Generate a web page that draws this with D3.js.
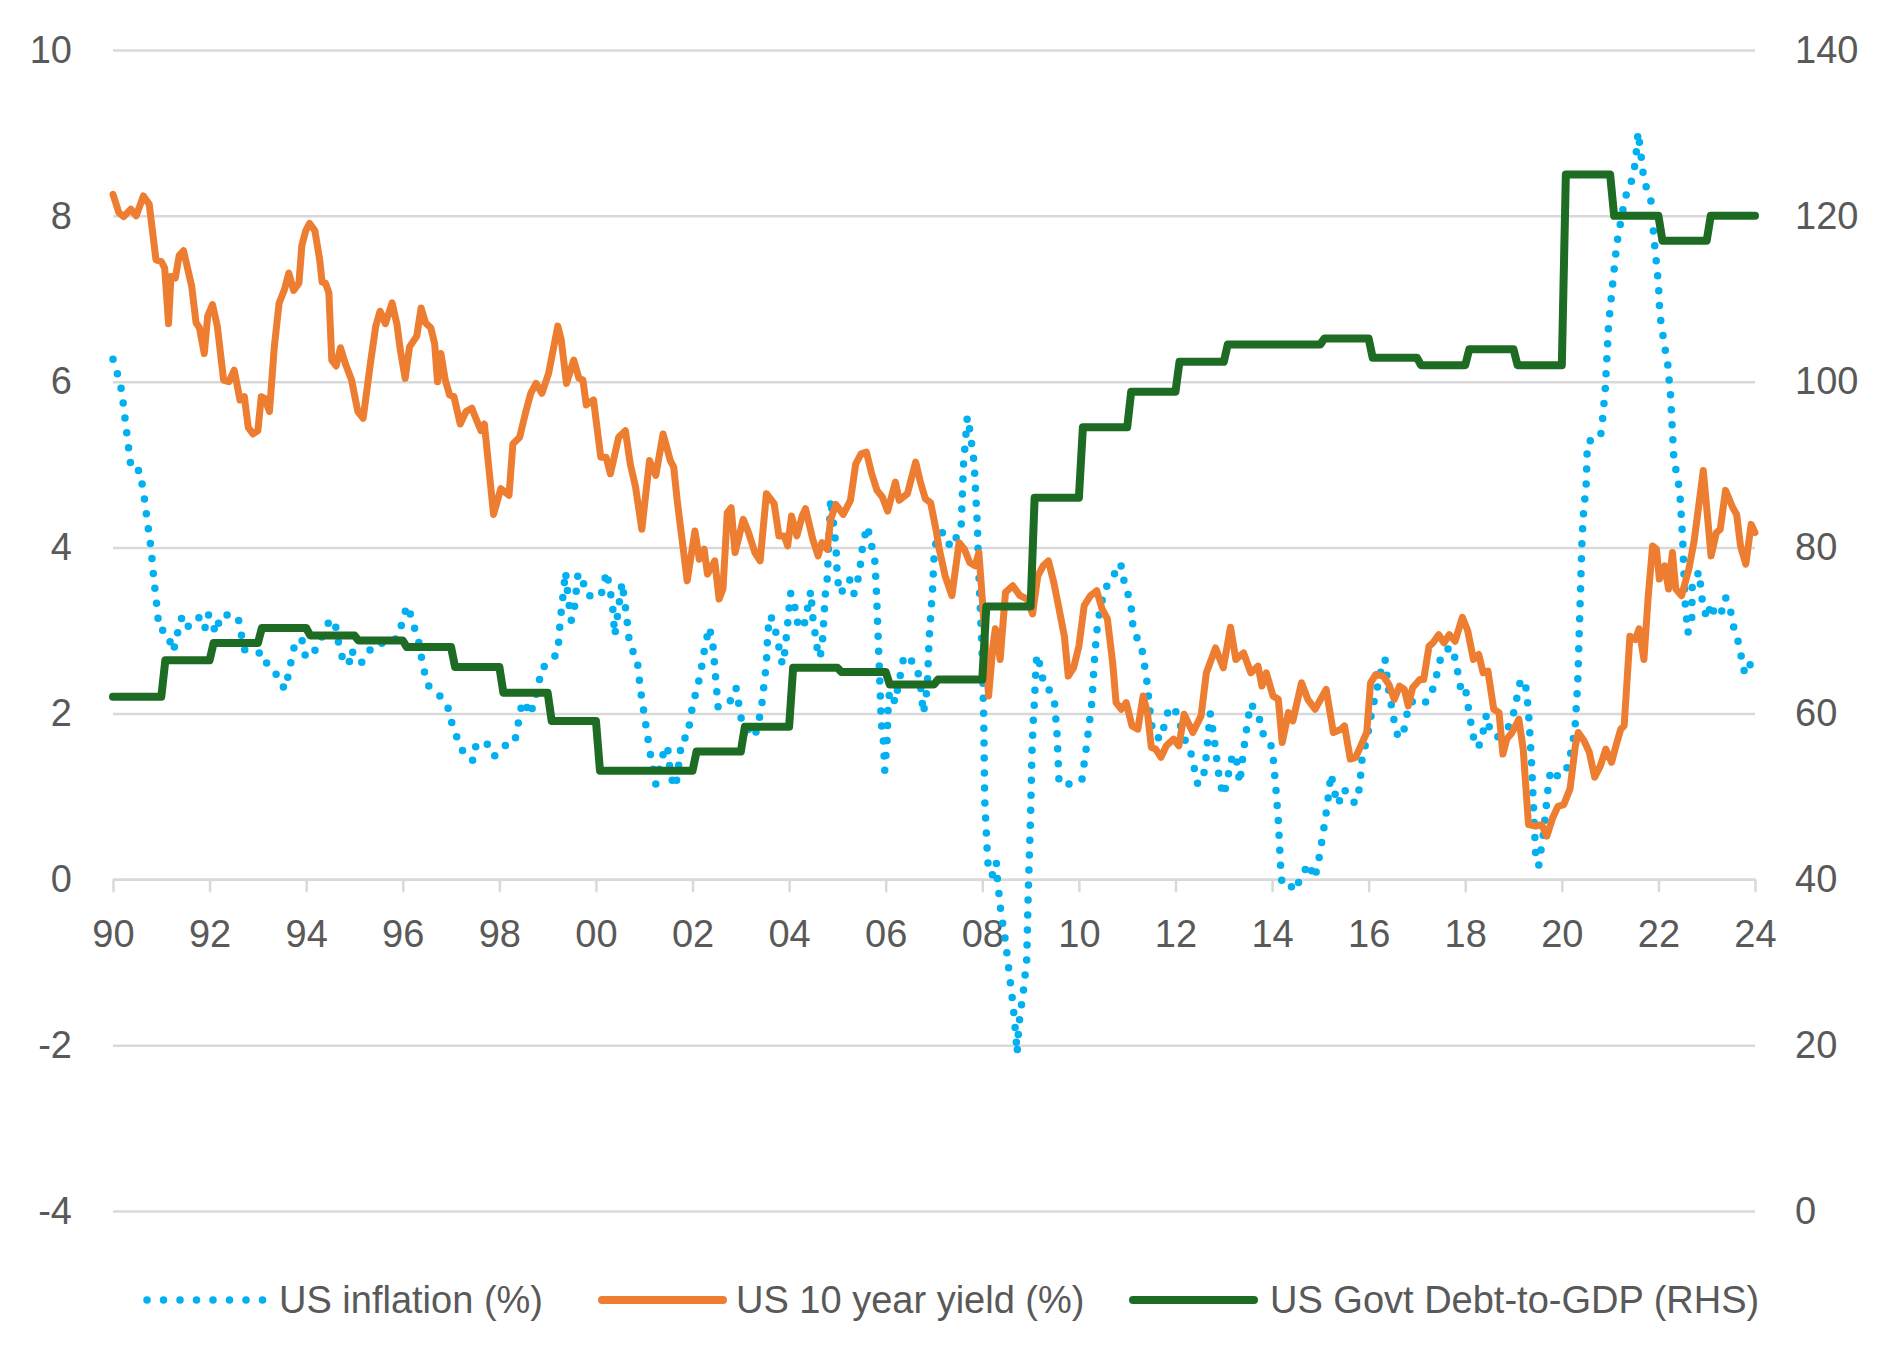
<!DOCTYPE html>
<html>
<head>
<meta charset="utf-8">
<script src="https://cdn.jsdelivr.net/npm/d3@7"></script>
<style>
  body { margin: 0; background: #fff; }
  svg { display: block; font-family: "Liberation Sans", Arial, sans-serif; }
  .axis text { fill: #595959; font-size: 38px; }
  .axis .domain { stroke: #d9d9d9; stroke-width: 2.5; }
  .axis line { stroke: #d9d9d9; stroke-width: 2.5; }
</style>
</head>
<body>
<svg class="chart"></svg>
<script>
// tick values
var leftTicks = [-4, -2, 0, 2, 4, 6, 8, 10];
var rightTicks = [0, 20, 40, 60, 80, 100, 120, 140];
var yearTicks = [1990, 1992, 1994, 1996, 1998, 2000, 2002, 2004, 2006, 2008,
                 2010, 2012, 2014, 2016, 2018, 2020, 2022, 2024];

var legendLabels = ["US inflation (%)", "US 10 year yield (%)", "US Govt Debt-to-GDP (RHS)"];

// US Govt Debt-to-GDP (RHS), one level per year
var debtYears = [1990, 1991, 1992, 1993, 1994, 1995, 1996, 1997, 1998, 1999,
                 2000, 2001, 2002, 2003, 2004, 2005, 2006, 2007, 2008, 2009,
                 2010, 2011, 2012, 2013, 2014, 2015, 2016, 2017, 2018, 2019,
                 2020, 2021, 2022, 2023];
var debtValues = [62, 66.4, 68.5, 70.3, 69.4, 68.8, 68.0, 65.6, 62.5, 59.1,
                  53.1, 53.1, 55.4, 58.4, 65.5, 65.0, 63.5, 64.1, 72.9, 86.0,
                  94.5, 98.8, 102.4, 104.5, 104.5, 105.2, 102.9, 102.0, 103.9, 102.0,
                  125.0, 120.0, 117.0, 120.0];
var debtEnd = 2024;

// US 10 year yield (%), [year, value]
var yieldData = [
  [1990.0,8.26],[1990.12,8.04],[1990.22,7.99],[1990.37,8.08],[1990.48,8.0],[1990.63,8.24],[1990.75,8.14],
  [1990.89,7.47],[1991.0,7.45],[1991.07,7.37],[1991.15,6.7],[1991.2,7.27],[1991.29,7.25],[1991.37,7.52],
  [1991.46,7.58],[1991.63,7.15],[1991.72,6.71],[1991.79,6.65],[1991.89,6.34],[1991.96,6.79],[1992.06,6.93],
  [1992.16,6.67],[1992.29,6.02],[1992.4,6.0],[1992.51,6.14],[1992.63,5.78],[1992.72,5.82],[1992.8,5.45],
  [1992.9,5.37],[1993.0,5.41],[1993.07,5.82],[1993.14,5.8],[1993.24,5.64],[1993.34,6.42],[1993.44,6.95],
  [1993.55,7.11],[1993.64,7.31],[1993.74,7.1],[1993.85,7.19],[1993.91,7.64],[1993.99,7.82],[1994.07,7.91],
  [1994.18,7.82],[1994.28,7.47],[1994.33,7.2],[1994.4,7.19],[1994.47,7.07],[1994.53,6.26],[1994.62,6.19],
  [1994.71,6.41],[1994.81,6.22],[1994.94,6.02],[1995.07,5.64],[1995.18,5.56],[1995.33,6.22],[1995.44,6.67],
  [1995.53,6.85],[1995.64,6.7],[1995.78,6.95],[1995.88,6.69],[1995.95,6.38],[1996.05,6.04],[1996.14,6.42],
  [1996.29,6.55],[1996.38,6.89],[1996.47,6.71],[1996.58,6.65],[1996.66,6.46],[1996.72,6.0],[1996.79,6.34],
  [1996.88,6.02],[1996.97,5.84],[1997.06,5.82],[1997.19,5.49],[1997.31,5.64],[1997.43,5.68],[1997.54,5.52],
  [1997.62,5.41],[1997.69,5.49],[1997.88,4.4],[1998.03,4.71],[1998.2,4.63],[1998.28,5.25],[1998.42,5.33],
  [1998.54,5.62],[1998.65,5.86],[1998.76,5.98],[1998.88,5.86],[1999.02,6.1],[1999.21,6.67],[1999.28,6.51],
  [1999.39,5.98],[1999.54,6.26],[1999.65,6.04],[1999.73,6.02],[1999.8,5.72],[1999.95,5.78],[2000.1,5.09],
  [2000.21,5.09],[2000.3,4.89],[2000.47,5.33],[2000.61,5.41],[2000.71,5.01],[2000.82,4.73],[2000.95,4.22],
  [2001.11,5.05],[2001.24,4.87],[2001.39,5.37],[2001.54,5.05],[2001.61,4.97],[2001.68,4.58],[2001.89,3.6],
  [2002.05,4.2],[2002.14,3.86],[2002.24,3.98],[2002.31,3.68],[2002.46,3.84],[2002.55,3.38],[2002.63,3.5],
  [2002.72,4.42],[2002.8,4.48],[2002.88,3.94],[2003.05,4.34],[2003.16,4.18],[2003.29,3.94],[2003.4,3.84],
  [2003.53,4.65],[2003.69,4.53],[2003.79,4.14],[2003.9,4.14],[2003.97,4.02],[2004.05,4.38],[2004.16,4.14],
  [2004.27,4.38],[2004.34,4.47],[2004.49,4.1],[2004.6,3.9],[2004.68,4.06],[2004.79,3.98],[2004.86,4.34],
  [2004.97,4.52],[2005.12,4.4],[2005.27,4.57],[2005.38,5.01],[2005.49,5.13],[2005.6,5.15],[2005.71,4.89],
  [2005.82,4.69],[2005.93,4.61],[2006.04,4.44],[2006.2,4.79],[2006.28,4.57],[2006.45,4.65],[2006.62,5.03],
  [2006.71,4.81],[2006.82,4.59],[2006.93,4.54],[2007.04,4.22],[2007.11,3.98],[2007.23,3.66],[2007.37,3.42],
  [2007.52,4.06],[2007.63,3.98],[2007.74,3.82],[2007.85,3.78],[2007.93,3.94],[2008.0,3.38],[2008.13,2.21],
  [2008.22,2.81],[2008.27,3.02],[2008.37,2.65],[2008.48,3.46],[2008.63,3.54],[2008.78,3.42],[2008.93,3.38],
  [2009.04,3.2],[2009.15,3.66],[2009.26,3.78],[2009.37,3.84],[2009.48,3.58],[2009.59,3.26],[2009.7,2.93],
  [2009.78,2.45],[2009.89,2.55],[2010.0,2.81],[2010.11,3.3],[2010.24,3.42],[2010.37,3.48],[2010.48,3.26],
  [2010.59,3.14],[2010.7,2.61],[2010.77,2.13],[2010.88,2.05],[2010.98,2.13],[2011.1,1.85],[2011.22,1.81],
  [2011.33,2.21],[2011.42,2.01],[2011.5,1.59],[2011.59,1.57],[2011.7,1.47],[2011.81,1.61],[2011.96,1.69],
  [2012.07,1.61],[2012.18,1.99],[2012.36,1.77],[2012.53,1.97],[2012.64,2.49],[2012.83,2.79],[2012.99,2.55],
  [2013.14,3.04],[2013.25,2.65],[2013.41,2.73],[2013.56,2.49],[2013.71,2.57],[2013.79,2.33],[2013.88,2.49],
  [2014.02,2.21],[2014.13,2.17],[2014.21,1.65],[2014.34,2.01],[2014.43,1.91],[2014.61,2.37],[2014.74,2.17],
  [2014.89,2.05],[2015.12,2.29],[2015.27,1.77],[2015.43,1.81],[2015.5,1.85],[2015.62,1.45],[2015.73,1.47],
  [2015.84,1.61],[2015.96,1.77],[2016.04,2.37],[2016.15,2.47],[2016.3,2.45],[2016.42,2.35],[2016.53,2.17],
  [2016.64,2.33],[2016.74,2.29],[2016.82,2.09],[2016.91,2.31],[2017.06,2.41],[2017.14,2.41],[2017.25,2.81],
  [2017.33,2.85],[2017.45,2.95],[2017.56,2.85],[2017.67,2.95],[2017.79,2.87],[2017.94,3.16],[2018.05,3.0],
  [2018.17,2.65],[2018.28,2.71],[2018.37,2.49],[2018.47,2.51],[2018.59,2.05],[2018.7,2.01],[2018.78,1.51],
  [2018.86,1.69],[2018.97,1.77],[2019.11,1.93],[2019.2,1.57],[2019.31,0.66],[2019.46,0.64],[2019.58,0.66],
  [2019.69,0.52],[2019.81,0.74],[2019.92,0.88],[2020.04,0.9],[2020.17,1.09],[2020.28,1.61],[2020.34,1.77],
  [2020.46,1.67],[2020.57,1.53],[2020.68,1.23],[2020.8,1.37],[2020.91,1.57],[2021.03,1.41],[2021.14,1.65],
  [2021.22,1.81],[2021.29,1.85],[2021.41,2.93],[2021.52,2.89],[2021.6,3.02],[2021.7,2.65],[2021.79,3.42],
  [2021.88,4.02],[2021.96,3.98],[2022.02,3.62],[2022.13,3.78],[2022.21,3.5],[2022.29,3.94],[2022.36,3.5],
  [2022.48,3.42],[2022.63,3.74],[2022.74,4.08],[2022.93,4.93],[2023.09,3.9],[2023.2,4.18],[2023.28,4.22],
  [2023.39,4.69],[2023.54,4.48],[2023.62,4.4],[2023.7,4.02],[2023.81,3.8],[2023.92,4.28],[2024.0,4.18]
];

// US inflation (%), [year, value]
var inflationData = [
  [1990.0,6.27],[1990.1,6.08],[1990.18,5.89],[1990.22,5.7],[1990.26,5.5],[1990.3,5.31],[1990.34,5.12],
  [1990.38,4.93],[1990.55,4.93],[1990.61,4.74],[1990.66,4.55],[1990.7,4.36],[1990.75,4.15],[1990.79,3.98],
  [1990.82,3.78],[1990.85,3.59],[1990.89,3.4],[1990.92,3.21],[1990.96,3.01],[1991.06,3.0],[1991.17,2.94],
  [1991.2,2.75],[1991.31,2.83],[1991.35,3.03],[1991.44,3.18],[1991.57,3.04],[1991.79,3.16],[1991.9,3.02],
  [1991.97,3.2],[1992.07,3.04],[1992.16,2.97],[1992.2,3.16],[1992.33,3.2],[1992.44,3.16],[1992.59,3.16],
  [1992.65,2.97],[1992.72,2.77],[1992.94,2.73],[1993.12,2.73],[1993.2,2.57],[1993.42,2.45],[1993.55,2.29],
  [1993.64,2.48],[1993.7,2.67],[1993.77,2.85],[1993.91,2.9],[1993.96,2.71],[1994.09,2.67],[1994.25,2.83],
  [1994.5,3.14],[1994.61,3.05],[1994.67,2.85],[1994.75,2.67],[1994.88,2.58],[1994.94,2.77],[1995.03,2.65],
  [1995.14,2.61],[1995.25,2.68],[1995.35,2.8],[1995.47,2.85],[1995.66,2.84],[1995.83,2.88],[1995.95,3.0],
  [1996.01,3.19],[1996.12,3.3],[1996.19,3.1],[1996.31,2.94],[1996.36,2.75],[1996.43,2.56],[1996.49,2.37],
  [1996.6,2.28],[1996.82,2.19],[1996.97,2.03],[1997.03,1.84],[1997.16,1.66],[1997.29,1.48],[1997.46,1.43],
  [1997.52,1.63],[1997.73,1.65],[1997.89,1.48],[1998.1,1.61],[1998.31,1.64],[1998.38,1.83],[1998.42,2.02],
  [1998.51,2.15],[1998.64,1.98],[1998.73,2.16],[1998.82,2.35],[1998.86,2.54],[1998.99,2.59],[1999.21,2.73],
  [1999.26,3.12],[1999.3,3.32],[1999.37,3.71],[1999.42,3.42],[1999.49,3.12],[1999.56,3.3],[1999.63,3.69],
  [1999.73,3.59],[1999.82,3.42],[2000.1,3.41],[2000.22,3.71],[2000.34,3.33],[2000.39,2.94],[2000.47,3.28],
  [2000.54,3.58],[2000.63,3.2],[2000.7,2.81],[2000.85,2.67],[2000.92,2.29],[2001.02,1.91],[2001.12,1.53],
  [2001.24,1.15],[2001.38,1.49],[2001.48,1.61],[2001.55,1.23],[2001.65,1.11],[2001.74,1.49],[2001.77,1.69],
  [2001.89,1.71],[2002.0,2.09],[2002.16,2.46],[2002.27,2.85],[2002.35,3.04],[2002.42,2.84],[2002.53,2.07],
  [2002.78,2.15],[2002.9,2.31],[2003.01,1.93],[2003.1,1.7],[2003.21,1.91],[2003.29,1.72],[2003.42,2.03],
  [2003.53,2.61],[2003.56,3.0],[2003.62,3.18],[2003.73,2.97],[2003.86,2.59],[2003.9,2.69],[2003.97,3.08],
  [2004.03,3.45],[2004.08,3.4],[2004.2,3.02],[2004.33,3.1],[2004.45,3.48],[2004.49,3.16],[2004.58,2.79],
  [2004.64,2.67],[2004.69,2.86],[2004.75,3.44],[2004.79,3.63],[2004.86,4.59],[2004.97,4.02],[2005.0,3.62],
  [2005.06,3.44],[2005.19,3.56],[2005.25,3.62],[2005.34,3.44],[2005.45,3.67],[2005.53,4.06],[2005.62,4.26],
  [2005.71,4.02],[2005.78,3.82],[2005.81,3.44],[2005.86,2.66],[2005.91,1.88],[2005.95,1.69],[2005.98,1.31],
  [2006.03,1.69],[2006.05,2.07],[2006.08,2.27],[2006.15,2.19],[2006.2,2.13],[2006.25,2.31],[2006.32,2.51],
  [2006.38,2.7],[2006.47,2.67],[2006.63,2.58],[2006.71,2.39],[2006.78,2.0],[2006.86,2.31],[2006.9,2.91],
  [2006.97,3.5],[2007.0,3.88],[2007.04,4.06],[2007.11,4.18],[2007.23,4.18],[2007.34,4.0],[2007.56,4.22],
  [2007.61,4.99],[2007.69,5.58],[2007.74,5.42],[2007.83,5.03],[2007.9,4.24],[2007.93,3.66],[2007.97,3.1],
  [2008.0,2.69],[2008.03,1.93],[2008.05,0.96],[2008.1,0.36],[2008.12,0.17],[2008.2,0.04],[2008.29,0.21],
  [2008.31,0.02],[2008.38,-0.37],[2008.48,-0.75],[2008.56,-1.14],[2008.64,-1.53],[2008.7,-1.92],[2008.72,-2.1],
  [2008.76,-1.74],[2008.85,-1.35],[2008.92,-0.97],[2008.95,-0.19],[2009.0,0.78],[2009.03,1.56],[2009.06,1.96],
  [2009.08,2.15],[2009.11,2.53],[2009.13,2.71],[2009.22,2.53],[2009.28,2.32],[2009.38,2.29],[2009.5,2.11],
  [2009.55,1.73],[2009.59,1.15],[2009.81,1.15],[2010.06,1.19],[2010.15,1.57],[2010.27,2.14],[2010.33,2.72],
  [2010.39,3.1],[2010.53,3.5],[2010.7,3.62],[2010.81,3.81],[2010.91,3.76],[2010.94,3.55],[2011.07,3.36],
  [2011.13,2.98],[2011.29,2.83],[2011.4,2.43],[2011.5,1.87],[2011.59,1.71],[2011.73,1.7],[2011.77,1.89],
  [2011.88,2.08],[2011.99,2.05],[2012.09,1.88],[2012.19,1.69],[2012.32,1.52],[2012.46,1.15],[2012.57,1.19],
  [2012.64,1.5],[2012.72,2.0],[2012.8,1.7],[2012.91,1.2],[2012.99,1.01],[2013.04,1.11],[2013.18,1.5],
  [2013.25,1.5],[2013.33,1.16],[2013.41,1.55],[2013.5,1.93],[2013.56,2.12],[2013.73,1.96],[2013.79,1.77],
  [2013.96,1.67],[2014.02,1.48],[2014.08,1.09],[2014.13,0.7],[2014.18,0.12],[2014.21,-0.08],[2014.4,-0.09],
  [2014.5,-0.14],[2014.59,0.05],[2014.79,0.19],[2014.85,0.01],[2014.93,0.11],[2015.04,0.49],[2015.14,0.88],
  [2015.22,1.27],[2015.35,0.9],[2015.43,0.98],[2015.49,1.09],[2015.65,0.94],[2015.73,0.92],[2015.81,1.1],
  [2015.87,1.49],[2015.96,1.68],[2016.07,2.04],[2016.23,2.43],[2016.29,2.63],[2016.34,2.65],[2016.42,2.26],
  [2016.53,1.9],[2016.61,1.71],[2016.71,1.74],[2016.84,2.13],[2016.95,2.15],[2017.13,2.11],[2017.27,2.19],
  [2017.37,2.37],[2017.52,2.74],[2017.73,2.8],[2017.81,2.61],[2017.9,2.32],[2017.99,2.36],[2018.04,2.16],
  [2018.09,1.97],[2018.21,1.59],[2018.32,1.63],[2018.44,1.99],[2018.51,1.8],[2018.63,1.71],[2018.74,1.73],
  [2018.89,1.83],[2019.01,2.02],[2019.14,2.39],[2019.24,2.4],[2019.31,2.02],[2019.37,1.44],[2019.43,0.66],
  [2019.46,0.27],[2019.52,0.16],[2019.62,0.55],[2019.72,1.13],[2019.77,1.32],[2019.88,1.25],[2020.04,1.25],
  [2020.15,1.41],[2020.27,1.8],[2020.33,2.38],[2020.38,3.36],[2020.42,4.13],[2020.46,4.52],[2020.5,4.69],
  [2020.53,5.27],[2020.71,5.33],[2020.8,5.33],[2020.84,5.52],[2020.9,5.92],[2020.97,6.7],[2021.07,7.28],
  [2021.14,7.67],[2021.26,8.06],[2021.32,8.24],[2021.38,8.29],[2021.45,8.44],[2021.52,8.63],[2021.58,9.01],
  [2021.64,8.73],[2021.68,8.53],[2021.75,8.34],[2021.85,8.17],[2021.9,7.78],[2022.0,7.19],[2022.03,6.81],
  [2022.13,6.42],[2022.19,6.23],[2022.25,5.84],[2022.32,5.07],[2022.44,4.69],[2022.5,4.13],[2022.55,3.36],
  [2022.61,2.97],[2022.69,3.14],[2022.7,3.54],[2022.84,3.71],[2022.92,3.3],[2023.01,3.14],[2023.09,3.33],
  [2023.16,3.2],[2023.28,3.17],[2023.39,3.4],[2023.5,3.22],[2023.56,3.04],[2023.66,2.85],[2023.79,2.47],
  [2023.9,2.59]
];

var width = 1891, height = 1368;
var plotLeft = 113, plotRight = 1755, plotTop = 50, plotBottom = 1211;

var svg = d3.select(".chart")
    .attr("width", width)
    .attr("height", height);

var x = d3.scaleLinear().domain([1990, 2024]).range([plotLeft, plotRight]);
var yL = d3.scaleLinear().domain([-4, 10]).range([plotBottom, plotTop]);
var yR = d3.scaleLinear().domain([0, 140]).range([plotBottom, plotTop]);

// gridlines + left labels
var gLeft = svg.append("g")
    .attr("class", "axis")
    .attr("transform", "translate(" + plotLeft + ",0)")
    .call(d3.axisLeft(yL)
        .tickValues(leftTicks)
        .tickSize(-(plotRight - plotLeft))
        .tickPadding(41)
        .tickFormat(function(d) { return String(d); }));
gLeft.select(".domain").remove();

var gRight = svg.append("g")
    .attr("class", "axis")
    .attr("transform", "translate(" + plotRight + ",0)")
    .call(d3.axisRight(yR)
        .tickValues(rightTicks)
        .tickSize(0)
        .tickPadding(40));
gRight.select(".domain").remove();

svg.append("g")
    .attr("class", "axis")
    .attr("transform", "translate(0," + yL(0) + ")")
    .call(d3.axisBottom(x)
        .tickValues(yearTicks)
        .tickSize(13)
        .tickSizeOuter(0)
        .tickPadding(28)
        .tickFormat(function(d) { return String(d % 100).padStart(2, "0"); }));

// build debt step path from the yearly levels
var debtPts = [];
debtYears.forEach(function(yr, i) {
    var start = i === 0 ? yr : yr + 1 / 12;
    var end = i < debtYears.length - 1 ? debtYears[i + 1] : debtEnd;
    debtPts.push([start, debtValues[i]]);
    debtPts.push([end, debtValues[i]]);
});

var lineL = d3.line()
    .x(function(d) { return x(d[0]); })
    .y(function(d) { return yL(d[1]); });
var lineR = d3.line()
    .x(function(d) { return x(d[0]); })
    .y(function(d) { return yR(d[1]); });

var blue = "#00b0f0", orange = "#ed7d31", green = "#1e6b24";

svg.append("path")
    .datum(inflationData)
    .attr("d", lineL)
    .attr("fill", "none")
    .attr("stroke", blue)
    .attr("stroke-width", 7.5)
    .attr("stroke-linecap", "round")
    .attr("stroke-dasharray", "0 15");

svg.append("path")
    .datum(yieldData)
    .attr("d", lineL)
    .attr("fill", "none")
    .attr("stroke", orange)
    .attr("stroke-width", 7)
    .attr("stroke-linejoin", "round")
    .attr("stroke-linecap", "round");

svg.append("path")
    .datum(debtPts)
    .attr("d", lineR)
    .attr("fill", "none")
    .attr("stroke", green)
    .attr("stroke-width", 8)
    .attr("stroke-linejoin", "round")
    .attr("stroke-linecap", "round");

// legend
var legendY = 1300;
var legendItems = [
    {label: legendLabels[0], color: blue, x1: 147, x2: 263, tx: 279, dots: true},
    {label: legendLabels[1], color: orange, x1: 602, x2: 723, tx: 736},
    {label: legendLabels[2], color: green, x1: 1133, x2: 1254, tx: 1270}
];

var leg = svg.selectAll("g.legend")
    .data(legendItems)
  .enter().append("g")
    .attr("class", "legend");

leg.append("line")
    .attr("x1", function(d) { return d.x1; })
    .attr("x2", function(d) { return d.x2; })
    .attr("y1", legendY)
    .attr("y2", legendY)
    .attr("stroke", function(d) { return d.color; })
    .attr("stroke-width", function(d) { return d.dots ? 7.5 : 8; })
    .attr("stroke-linecap", "round")
    .attr("stroke-dasharray", function(d) { return d.dots ? "0 16.5" : null; });

leg.append("text")
    .attr("x", function(d) { return d.tx; })
    .attr("y", legendY)
    .attr("dy", "0.35em")
    .attr("fill", "#595959")
    .attr("font-size", 38)
    .text(function(d) { return d.label; });
</script>
</body>
</html>
